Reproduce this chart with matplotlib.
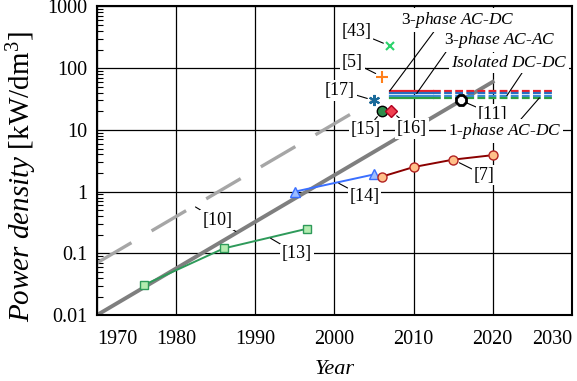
import matplotlib
matplotlib.use('Agg')
import matplotlib.pyplot as plt

plt.rcParams['font.family'] = 'Liberation Serif'
plt.rcParams['mathtext.fontset'] = 'custom'
plt.rcParams['mathtext.rm'] = 'Liberation Serif'
plt.rcParams['mathtext.it'] = 'Liberation Serif:italic'

# trend lines
trend_years = [1970, 2020]
trend_vals = [0.01, 60]
trend10_years = [1970, 2005]
trend10_vals = [0.07, 30]

# data series
ref13_years = [1976, 1986, 1996.5]
ref13_vals = [0.031, 0.12, 0.25]
ref14_years = [1995, 2005]
ref14_vals = [1.0, 1.9]
ref7_years = [2006, 2010, 2015, 2020]
ref7_vals = [1.75, 2.5, 3.3, 3.9]

# single points
pt_labels = ['[43]', '[5]', '[17]', '[15]', '[16]', '[11]']
pt_years = [2007, 2006, 2005, 2006, 2007.2, 2016]
pt_vals = [230, 73, 30, 20, 20, 30]

# converter classes (horizontal targets)
cls_names = ['3-phase AC-DC', '3-phase AC-AC', 'Isolated DC-DC', '1-phase AC-DC']
cls_vals = [43, 39, 36, 33]
cls_start, cls_now, cls_end = 2007, 2012.5, 2027.5

xticks = [1970, 1980, 1990, 2000, 2010, 2020, 2030]
yticks = [0.01, 0.1, 1, 10, 100, 1000]
ytick_labels = ['0.01', '0.1', '1', '10', '100', '1000']

fig = plt.figure(figsize=(5.77, 3.81), dpi=100)
ax = fig.add_axes([0.168, 0.173, 0.823, 0.810])
ax.set_yscale('log')
ax.set_xlim(1970, 2030)
ax.set_ylim(0.01, 1000)

ax.grid(True, which='major', color='black', lw=0.9, zorder=0)
ax.set_axisbelow(True)

ax.plot(trend_years, trend_vals, color='#7f7f7f', lw=2.8, zorder=2)
ax.plot(trend10_years, trend10_vals, color='#a6a6a6', lw=2.4,
        linestyle=(0, (12, 7)), zorder=2)

ax.plot(ref13_years, ref13_vals, color='#2e9a5a', lw=1.4, marker='s', ms=6,
        mfc='#b4ecb0', mec='#2e9a5a', mew=1, zorder=3)
ax.plot(ref14_years, ref14_vals, color='#3a6fff', lw=1.4, marker='^', ms=7,
        mfc='#9dbdff', mec='#3a6fff', mew=1, zorder=3)
ax.plot(ref7_years, ref7_vals, color='#8b0000', lw=1.4, marker='o', ms=6.5,
        mfc='#ffc08a', mec='#b22222', mew=1, zorder=3)

cls_colors = ['#e8202a', '#2a6ebf', '#3c8ad8', '#2ea043']
for val, col in zip(cls_vals, cls_colors):
    ax.plot([cls_start, cls_now], [val, val], color=col, lw=1.6, zorder=3)
    ax.plot([cls_now, cls_end], [val, val], color=col, lw=1.6,
            linestyle=(0, (3.5, 1.5)), zorder=3)

ax.plot(pt_years[0], pt_vals[0], marker='x', color='#2bd36b', ms=6, mew=1.5, zorder=4)
ax.plot(pt_years[1], pt_vals[1], marker='+', color='#ff7f1a', ms=8, mew=1.5, zorder=4)
ax.plot(pt_years[2], pt_vals[2], marker=(6, 2, 0), color='#1a6a9a', ms=8, mew=1.5, zorder=4)
ax.plot(pt_years[3], pt_vals[3], marker='o', mfc='#2e8b4a', mec='black', ms=7.5, mew=1, zorder=4)
ax.plot(pt_years[4], pt_vals[4], marker='D', mfc='#f04050', mec='#b00020', ms=6, mew=1, zorder=4)
ax.plot(pt_years[5], pt_vals[5], marker='8', mfc='white', mec='black', ms=7.5, mew=2, zorder=4)

box = dict(boxstyle='square,pad=0.1', fc='white', ec='none')
lead = dict(arrowstyle='-', color='black', lw=0.8, shrinkA=0, shrinkB=5)


def label(text, xy, xytext, shrink=5, fs=13):
    ax.annotate(text, xy=xy, xytext=xytext, ha='center', va='center',
                fontsize=fs, bbox=box, zorder=5,
                arrowprops=dict(lead, shrinkB=shrink))


label_pos = [(2002.8, 386), (2002.3, 126), (2000.7, 44),
             (2004.0, 10), (2009.8, 10.5), (2020.0, 18)]
for t, x, y, p in zip(pt_labels, pt_years, pt_vals, label_pos):
    label(t, (x, y), p)

label('[7]', (ref7_years[2], ref7_vals[2]), (2018.9, 1.86))
label('[14]', (2000.4, 1.4), (2003.8, 0.82), shrink=1)
label('[13]', (1991.8, 0.18), (1995.3, 0.098), shrink=1)
label('[10]', (1982.3, 0.58), (1985.2, 0.346), shrink=1)
ax.annotate('', xy=(1987.7, 0.22), xytext=(1985.2, 0.346),
            arrowprops=dict(lead, shrinkA=9, shrinkB=1))

# class labels with leaders
cls_text = [r'3-$\mathit{phase\ AC}$-$\mathit{DC}$',
            r'3-$\mathit{phase\ AC}$-$\mathit{AC}$',
            r'$\mathit{Isolated\ DC}$-$\mathit{DC}$',
            r'1-$\mathit{phase\ AC}$-$\mathit{DC}$']
cls_text_pos = [(2015.6, 603), (2020.9, 286), (2022.1, 121), (2021.5, 9.6)]
cls_targets = [(cls_start, cls_vals[0]), (2010.4, cls_vals[1]),
               (2021.8, cls_vals[2]), (2025.9, cls_vals[3])]
cls_relpos = [(0.3, 0), (0.03, 0), (0.62, 0), (0.63, 1)]
for t, p, xy, rp in zip(cls_text, cls_text_pos, cls_targets, cls_relpos):
    ax.annotate(t, xy=xy, xytext=p, ha='center', va='center', fontsize=12.5,
                bbox=box, zorder=5,
                arrowprops=dict(lead, shrinkB=0, relpos=rp))

ax.set_xticks(xticks)
ax.set_xticklabels([str(x) for x in xticks])
ax.set_yticks(yticks)
ax.set_yticklabels(ytick_labels)
ax.tick_params(axis='both', which='major', direction='in', length=0,
               labelsize=14.5)
ax.tick_params(axis='x', which='major', pad=11)
ax.tick_params(axis='y', which='major', pad=7)
ax.tick_params(axis='y', which='minor', direction='in', length=4, width=0.8)
ax.tick_params(axis='x', which='minor', bottom=False)
xt = ax.xaxis.get_major_ticks()
xt[0].label1.set_horizontalalignment('left')
xt[-1].label1.set_horizontalalignment('right')

for s in ax.spines.values():
    s.set_linewidth(1.5)

ax.set_xlabel('Year', fontsize=16, style='italic', labelpad=8)
ax.set_ylabel(r'$\mathit{Power\ density}$ [kW/dm$^3$]', fontsize=21)
ax.yaxis.set_label_coords(-0.122, 0.45)

fig.savefig('out.png', dpi=100)
